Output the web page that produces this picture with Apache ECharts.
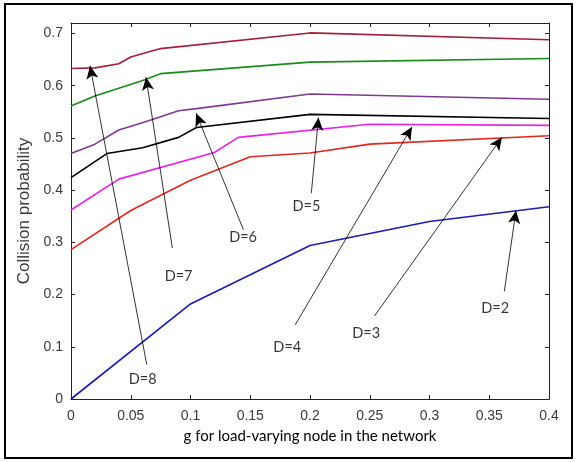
<!DOCTYPE html>
<html>
<head>
<meta charset="utf-8">
<script src="https://cdn.jsdelivr.net/npm/echarts@6/dist/echarts.min.js"></script>
<style>html,body{margin:0;padding:0;background:#fff}#c{width:576px;height:462px}</style>
</head>
<body>
<div id="c"></div>
<script>
// ---- data ----
const xTicks = [0, 0.05, 0.1, 0.15, 0.2, 0.25, 0.3, 0.35, 0.4];
const yTicks = [0, 0.1, 0.2, 0.3, 0.4, 0.5, 0.6, 0.7];
const seriesNames = ['D=2', 'D=3', 'D=4', 'D=5', 'D=6', 'D=7', 'D=8'];

const d2x = [0, 0.1, 0.2, 0.3, 0.4];
const d2y = [0, 0.182, 0.294, 0.340, 0.368];
const d3x = [0, 0.05, 0.1, 0.15, 0.2, 0.25, 0.4];
const d3y = [0.286, 0.361, 0.419, 0.464, 0.471, 0.488, 0.504];
const d4x = [0, 0.04, 0.12, 0.14, 0.25, 0.4];
const d4y = [0.362, 0.421, 0.472, 0.501, 0.526, 0.524];
const d5x = [0, 0.03, 0.06, 0.09, 0.105, 0.2, 0.4];
const d5y = [0.424, 0.470, 0.481, 0.501, 0.520, 0.545, 0.537];
const d6x = [0, 0.02, 0.04, 0.065, 0.09, 0.105, 0.2, 0.4];
const d6y = [0.470, 0.488, 0.515, 0.533, 0.552, 0.556, 0.584, 0.574];
const d7x = [0, 0.02, 0.04, 0.06, 0.075, 0.2, 0.4];
const d7y = [0.561, 0.580, 0.595, 0.610, 0.623, 0.645, 0.652];
const d8x = [0, 0.02, 0.04, 0.05, 0.075, 0.2, 0.4];
const d8y = [0.633, 0.634, 0.642, 0.655, 0.671, 0.701, 0.688];

// annotations: label text, label position, arrow tail, arrow tip (data units)
const annLabels = ['D=2', 'D=3', 'D=4', 'D=5', 'D=6', 'D=7', 'D=8'];
const annLabelX = [0.355, 0.247, 0.181, 0.197, 0.144, 0.090, 0.060];
const annLabelY = [0.174, 0.125, 0.098, 0.368, 0.310, 0.234, 0.037];
const annTailX = [0.3626, 0.254, 0.1876, 0.2011, 0.1443, 0.0848, 0.0634];
const annTailY = [0.206, 0.159, 0.142, 0.394, 0.324, 0.289, 0.066];
const annTipX = [0.3724, 0.3606, 0.2853, 0.2071, 0.1047, 0.0628, 0.0159];
const annTipY = [0.361, 0.501, 0.521, 0.539, 0.547, 0.616, 0.638];

const colors = ['#1c1cb0', '#dd2a1f', '#e622e6', '#000000', '#7e3a8e', '#1a8a1a', '#a2203c'];
const xs = [d2x, d3x, d4x, d5x, d6x, d7x, d8x];
const ys = [d2y, d3y, d4y, d5y, d6y, d7y, d8y];

const tickFont = {fontFamily: 'Liberation Sans', fontSize: 14, color: '#3a3a3a'};

const lineSeries = seriesNames.map((n, i) => ({
  name: n, type: 'line', symbol: 'none', silent: true,
  data: xs[i].map((x, j) => [x, ys[i][j]]),
  lineStyle: {color: colors[i], width: 1.6},
  z: 3
}));

const arrowSeries = {
  type: 'line', data: [], silent: true,
  markLine: {
    silent: true, animation: false,
    symbol: ['none', 'arrow'], symbolSize: [9, 13],
    label: {show: false},
    lineStyle: {color: '#000', width: 0.8, type: 'solid'},
    emphasis: {disabled: true},
    data: annLabels.map((t, i) => [
      {coord: [annTailX[i], annTailY[i]]},
      {coord: [annTipX[i], annTipY[i]]}
    ])
  }
};

const textSeries = {
  type: 'scatter', silent: true, symbolSize: 1,
  itemStyle: {color: 'transparent'},
  data: annLabels.map((t, i) => [annLabelX[i], annLabelY[i], t]),
  label: {show: true, position: 'inside', formatter: p => p.value[2],
    fontFamily: 'Lato', fontSize: 14.5, color: '#000'},
  z: 5
};

const chart = echarts.init(document.getElementById('c'), null, {renderer: 'canvas'});
chart.setOption({
  animation: false,
  backgroundColor: '#fff',
  grid: {left: 71, right: 27, top: 23, bottom: 63},
  xAxis: [{
    type: 'value', min: 0, max: 0.4, interval: 0.05,
    name: 'g for load-varying node in the network', nameLocation: 'middle', nameGap: 30,
    nameTextStyle: {fontFamily: 'Lato', fontSize: 15, color: '#000'},
    axisLine: {show: true, lineStyle: {color: '#222', width: 1}},
    axisTick: {show: true, inside: true, length: 4, lineStyle: {color: '#222'}},
    axisLabel: Object.assign({margin: 10, formatter: v => xTicks.some(t => Math.abs(t - v) < 1e-9) ? String(+v.toFixed(2)) : ''}, tickFont),
    splitLine: {show: false}
  }, {
    type: 'value', min: 0, max: 0.4, interval: 0.05, position: 'top',
    axisLine: {show: true, onZero: false, lineStyle: {color: '#222', width: 1}},
    axisTick: {show: true, inside: true, length: 4, lineStyle: {color: '#222'}},
    axisLabel: {show: false}, splitLine: {show: false}
  }],
  yAxis: [{
    type: 'value', min: 0, max: 0.72, interval: 0.1,
    name: 'Collision probability', nameLocation: 'middle', nameGap: 34,
    nameTextStyle: {fontFamily: 'Liberation Sans', fontSize: 17, color: '#3a3a3a'},
    axisLine: {show: true, lineStyle: {color: '#222', width: 1}},
    axisTick: {show: true, inside: true, length: 4, lineStyle: {color: '#222'}},
    axisLabel: Object.assign({margin: 8, formatter: v => yTicks.some(t => Math.abs(t - v) < 1e-9) ? String(+v.toFixed(1)) : ''}, tickFont),
    splitLine: {show: false}
  }, {
    type: 'value', min: 0, max: 0.72, interval: 0.1, position: 'right',
    axisLine: {show: true, onZero: false, lineStyle: {color: '#222', width: 1}},
    axisTick: {show: true, inside: true, length: 4, lineStyle: {color: '#222'}},
    axisLabel: {show: false}, splitLine: {show: false}
  }],
  graphic: [{
    type: 'rect', shape: {x: 5, y: 4, width: 567, height: 454},
    style: {fill: 'none', stroke: '#000', lineWidth: 2}, silent: true, z: 100
  }],
  series: [...lineSeries, arrowSeries, textSeries]
});
</script>
</body>
</html>
